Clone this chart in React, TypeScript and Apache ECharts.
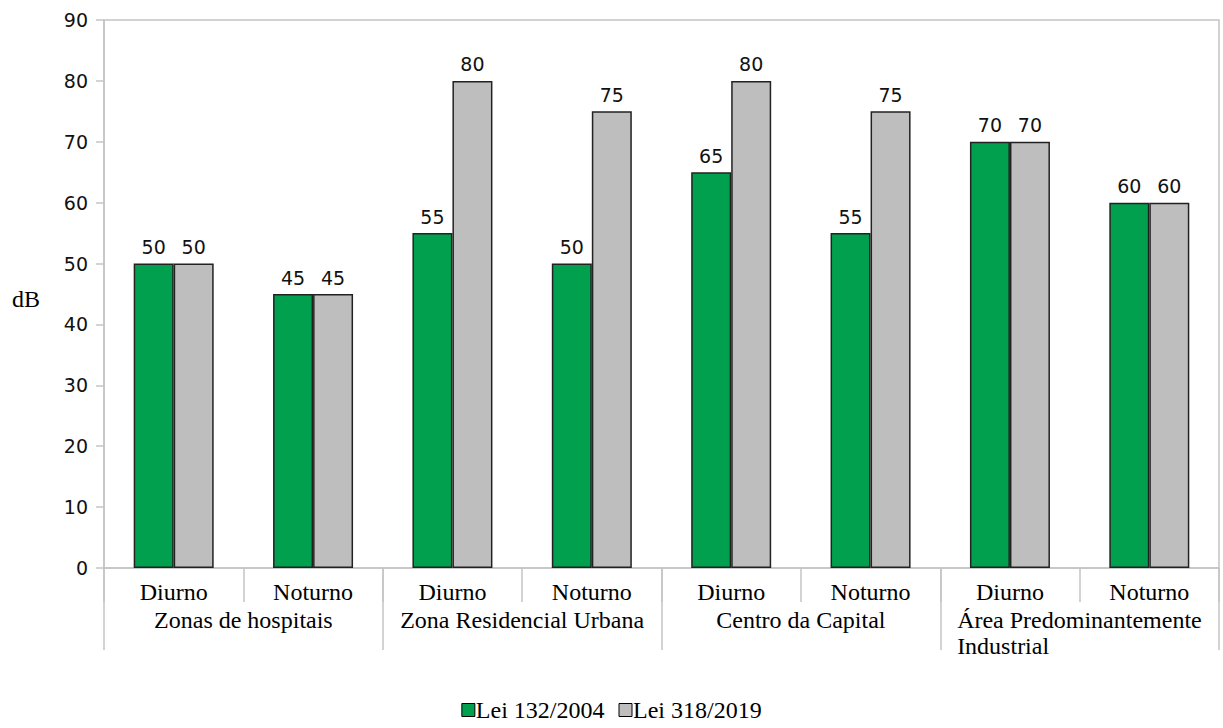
import React, { useEffect, useRef } from "react";
import * as echarts from "echarts";

const periods = ["Diurno", "Noturno", "Diurno", "Noturno", "Diurno", "Noturno", "Diurno", "Noturno"];
const groups = ["Zonas de hospitais", "Zona Residencial Urbana", "Centro da Capital", "Área Predominantemente Industrial"];
const lei2004 = [50, 45, 55, 50, 65, 55, 70, 60];
const lei2019 = [50, 45, 80, 75, 80, 75, 70, 60];
const seriesNames = ["Lei 132/2004", "Lei 318/2019"];
const yTicks = { min: 0, max: 90, interval: 10 };

const SERIF = "Liberation Serif";
const SANS = "DejaVu Sans";
const AXIS_GRAY = "#c4c4c4";
const FS = 24;

export default function App() {
  const ref = useRef<HTMLDivElement>(null);
  useEffect(() => {
    if (!ref.current) return;
    const chart = echarts.init(ref.current, undefined, { renderer: "svg" });
    const label = {
      show: true,
      position: "top",
      distance: 7,
      fontFamily: SANS,
      fontSize: 19,
      color: "#111",
    };
    chart.setOption({
      animation: false,
      backgroundColor: "#fff",
      grid: {
        left: 104,
        right: 4,
        top: 20,
        bottom: 160,
        show: true,
        borderColor: AXIS_GRAY,
        borderWidth: 1.5,
      },
      legend: {
        top: 697,
        left: "center",
        padding: 0,
        itemWidth: 13,
        itemHeight: 13,
        itemGap: 14,
        icon: "rect",
        textStyle: { fontFamily: SERIF, fontSize: FS, lineHeight: 26, color: "#000", padding: [0, 0, 0, -4] },
        itemStyle: { borderColor: "#000", borderWidth: 1 },
        data: seriesNames,
      },
      graphic: [
        {
          type: "text",
          left: 12,
          top: 287,
          style: { text: "dB", font: `${FS}px "${SERIF}"`, fill: "#000" },
        },
      ],
      xAxis: [
        {
          type: "category",
          data: periods,
          position: "bottom",
          axisLine: { show: true, lineStyle: { color: AXIS_GRAY, width: 1.5 } },
          axisTick: { show: true, interval: 0, length: 34, lineStyle: { color: AXIS_GRAY, width: 1.5 } },
          axisLabel: { interval: 0, margin: 12, fontFamily: SERIF, fontSize: FS, color: "#000" },
        },
        {
          type: "category",
          data: groups,
          position: "bottom",
          offset: 0,
          axisLine: { show: false },
          axisTick: { show: true, interval: 0, length: 82, lineStyle: { color: AXIS_GRAY, width: 1.5 } },
          axisLabel: {
            interval: 0,
            margin: 39,
            fontFamily: SERIF,
            fontSize: FS,
            color: "#000",
            lineHeight: 26,
            formatter: (v: string) => {
              if (v === "Área Predominantemente Industrial") {
                return "{a|Área Predominantemente}\n{a|Industrial}";
              }
              return v;
            },
            rich: {
              a: {
                width: 245,
                align: "left",
                fontFamily: SERIF,
                fontSize: FS,
                lineHeight: 26,
                color: "#000",
              },
            },
          },
        },
      ],
      yAxis: {
        type: "value",
        min: yTicks.min,
        max: yTicks.max,
        interval: yTicks.interval,
        axisLine: { show: true, lineStyle: { color: AXIS_GRAY, width: 1.5 } },
        axisTick: { show: true, length: 8, lineStyle: { color: AXIS_GRAY, width: 1.5 } },
        splitLine: { show: false },
        axisLabel: { margin: 16, fontFamily: SANS, fontSize: 19, color: "#111" },
      },
      series: [
        {
          name: seriesNames[0],
          type: "bar",
          xAxisIndex: 0,
          data: lei2004,
          barWidth: 40,
          barGap: "0%",
          itemStyle: { color: "#00a04f", borderColor: "#222", borderWidth: 1.5 },
          label,
        },
        {
          name: seriesNames[1],
          type: "bar",
          xAxisIndex: 0,
          data: lei2019,
          barWidth: 40,
          barGap: "0%",
          itemStyle: { color: "#bebebe", borderColor: "#222", borderWidth: 1.5 },
          label,
        },
      ],
    });
    return () => chart.dispose();
  }, []);
  return <div ref={ref} style={{ width: 1223, height: 728, position: "absolute", left: 0, top: 0 }} />;
}
